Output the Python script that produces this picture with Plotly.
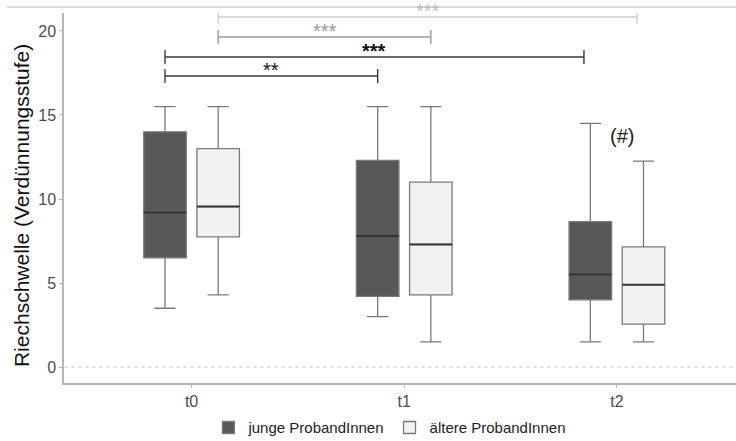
import plotly.graph_objects as go

# Measurement times on the x axis
categories = ["t0", "t1", "t2"]

# Five-number summaries of the olfactory threshold per group
junge_lower = [3.5, 3.0, 1.5]
junge_q1 = [6.5, 4.2, 4.0]
junge_median = [9.2, 7.8, 5.5]
junge_q3 = [14.0, 12.3, 8.65]
junge_upper = [15.5, 15.5, 14.5]

aeltere_lower = [4.3, 1.5, 1.5]
aeltere_q1 = [7.75, 4.3, 2.55]
aeltere_median = [9.55, 7.3, 4.9]
aeltere_q3 = [13.0, 11.0, 7.15]
aeltere_upper = [15.5, 15.5, 12.25]

# Pairwise comparisons: group, start time, end time, significance label
cmp_group = ["junge", "junge", "aeltere", "aeltere"]
cmp_start = ["t0", "t0", "t0", "t0"]
cmp_end = ["t1", "t2", "t1", "t2"]
cmp_label = ["**", "***", "***", "***"]

# Annotation next to the t2 boxes
note_text = "(#)"
y_title = "Riechschwelle (Verdünnungsstufe)"

# ---- styling / geometry ----
x_idx = list(range(len(categories)))
offset = {"junge": -0.125, "aeltere": 0.125}
half_box = 0.1
bracket_levels = [17.32, 18.45, 19.64, 20.83]
bracket_colors = ["#3a3a3a", "#3a3a3a", "#9a9a9a", "#cfcfcf"]
label_colors = ["#111111", "#111111", "#9a9a9a", "#bdbdbd"]
label_bold = [False, True, False, False]
tip = 0.42
end_trim = {"t1": 0.0, "t2": -0.03}
FONT = "Liberation Sans, Arial"

fig = go.Figure()

series = [
    ("junge ProbandInnen", "junge", junge_lower, junge_q1, junge_median, junge_q3, junge_upper, "#585858"),
    ("ältere ProbandInnen", "aeltere", aeltere_lower, aeltere_q1, aeltere_median, aeltere_q3, aeltere_upper, "#f2f2f2"),
]

for name, key, lo, q1, med, q3, up, fill in series:
    fig.add_trace(go.Box(
        name=name, x=x_idx, lowerfence=lo, q1=q1, median=med, q3=q3, upperfence=up,
        fillcolor=fill, line=dict(color="#7a7a7a", width=1.3),
        whiskerwidth=0.5, boxpoints=False, hoverinfo="skip",
    ))

# darker median segments drawn over the boxes
for name, key, lo, q1, med, q3, up, fill in series:
    mx, my = [], []
    for i, m in zip(x_idx, med):
        c = i + offset[key]
        mx += [c - half_box, c + half_box, None]
        my += [m, m, None]
    fig.add_trace(go.Scatter(x=mx, y=my, mode="lines", line=dict(color="#333333", width=2),
                             showlegend=False, hoverinfo="skip"))

# significance brackets
for g, s, e, lab, lvl, col, lcol, bold in zip(cmp_group, cmp_start, cmp_end, cmp_label,
                                               bracket_levels, bracket_colors, label_colors, label_bold):
    x0 = categories.index(s) + offset[g]
    x1 = categories.index(e) + offset[g] + end_trim[e]
    fig.add_trace(go.Scatter(
        x=[x0, x1, None, x0, x0, None, x1, x1],
        y=[lvl, lvl, None, lvl - tip, lvl + tip, None, lvl - tip, lvl + tip],
        mode="lines", line=dict(color=col, width=1.4), showlegend=False, hoverinfo="skip"))
    fig.add_annotation(x=(x0 + x1) / 2, y=lvl, text=f"<b>{lab}</b>" if bold else lab,
                       showarrow=False, yanchor="middle", yshift=6,
                       font=dict(size=20, color=lcol, family=FONT))

fig.add_annotation(x=2.025, y=13.75, text=note_text, showarrow=False,
                   font=dict(size=20, color="#222222", family=FONT))

# y axis title placed as a rotated label
fig.add_annotation(text=y_title, textangle=-90, showarrow=False,
                   xref="paper", x=-0.063, xanchor="center",
                   yref="paper", y=0.48, yanchor="middle",
                   font=dict(size=21, color="#111111", family=FONT))

# dashed reference line at zero
fig.add_shape(type="line", xref="paper", x0=0, x1=1, yref="y", y0=0, y1=0,
              line=dict(color="#cdcdcd", width=1, dash="4px,3px"), layer="below")
# thin rule across the top
fig.add_shape(type="line", xref="paper", x0=-0.085, x1=1, yref="paper", y0=1.016, y1=1.016,
              line=dict(color="#d0d0d0", width=1.5))

fig.update_layout(
    width=736, height=441,
    margin=dict(l=64, r=0, t=13, b=58),
    paper_bgcolor="white", plot_bgcolor="white",
    boxmode="group", boxgap=0.5, boxgroupgap=0.2,
    font=dict(family=FONT, color="#4d4d4d"),
    showlegend=True,
    legend=dict(orientation="h", x=0.485, xanchor="center",
                yref="container", y=0.03, yanchor="middle",
                font=dict(size=15, color="#222222"), itemwidth=30),
)
fig.update_xaxes(range=[-0.6, 2.56], tickvals=x_idx, ticktext=categories,
                 showline=True, linecolor="#b5b5b5", linewidth=1.5,
                 ticks="outside", ticklen=3, tickcolor="#b5b5b5",
                 tickfont=dict(size=16, color="#4d4d4d"), showgrid=False, zeroline=False)
fig.update_yaxes(range=[-0.95, 21.07], tickvals=[0, 5, 10, 15, 20],
                 showline=True, linecolor="#b5b5b5", linewidth=1.5,
                 ticks="outside", ticklen=3, tickcolor="#b5b5b5",
                 tickfont=dict(size=16, color="#4d4d4d"), showgrid=False, zeroline=False)

fig.write_html(
    "out.html",
    post_script="document.body.style.margin='0';"
                "document.body.style.overflow='hidden';"
                "document.documentElement.style.overflow='hidden';",
)
